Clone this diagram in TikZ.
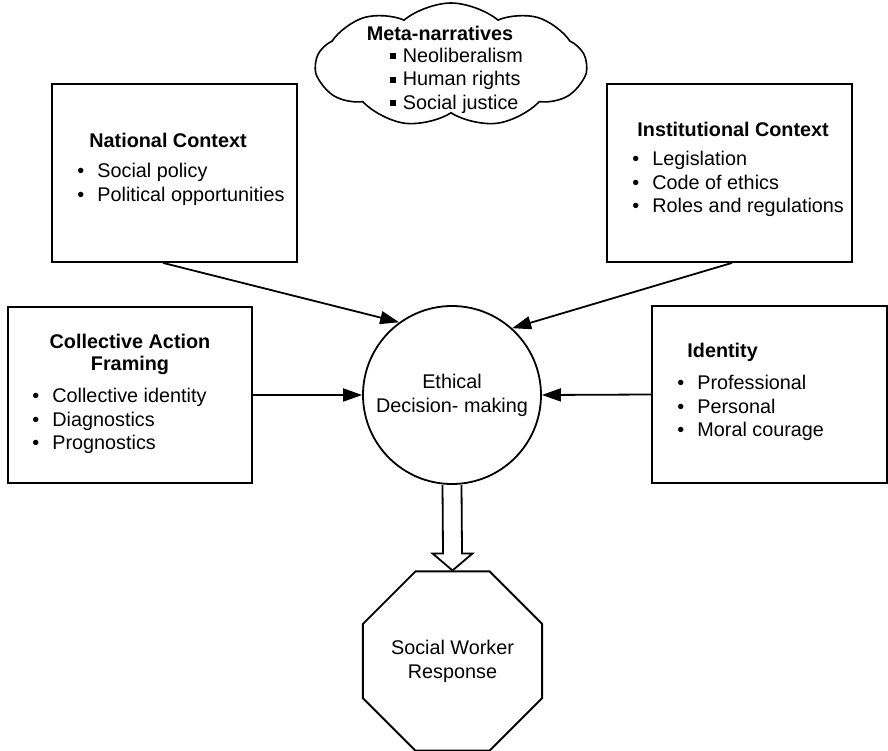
\documentclass[tikz,border=0pt]{standalone}
\usepackage{fontspec}
\setmainfont{Liberation Sans}
\usetikzlibrary{arrows.meta,shapes.geometric,shapes.symbols,calc}
\newcommand{\bul}[1]{\makebox[20pt][l]{\textbullet}#1}
\newcommand{\sqbul}[1]{\makebox[13pt][l]{\rule[3pt]{6pt}{6pt}}#1}

\begin{document}
\begin{tikzpicture}[x=1pt,y=-1pt,line width=1.8pt]
    % `box' is used for the four context boxes.
    % `hub' is the circle in the middle, `outcome' the octagon below it.
    % `puff' is the cloud on top, `feed' the thin arrows.
    \tikzstyle{box} = [draw,rectangle,inner sep=0pt]
    \tikzstyle{hub} = [draw,circle,minimum size=178pt,inner sep=0pt,align=center,font=\fontsize{19.8}{24}\selectfont]
    \tikzstyle{outcome} = [draw,regular polygon,regular polygon sides=8,minimum size=194pt,inner sep=0pt,align=center,font=\fontsize{19.8}{24}\selectfont]
    \tikzstyle{puff} = [draw,cloud,cloud puffs=9,cloud puff arc=80,aspect=2.2,minimum width=270pt,minimum height=124pt,inner sep=0pt,line width=1.6pt]
    \tikzstyle{heading} = [inner sep=0pt,align=center,font=\bfseries\fontsize{19.8}{22}\selectfont]
    \tikzstyle{bullets} = [inner sep=0pt,anchor=west,align=left,font=\fontsize{19.8}{23.5}\selectfont]
    \tikzstyle{feed} = [-{Triangle[length=19pt,width=13pt]}]
    %
    \useasboundingbox (0,0) rectangle (888,751);
    %
    % Cloud.
    \node[puff] (meta) at (451,65) {};
    \node[heading] (metaTitle) at (440,33) {Meta-narratives};
    \node[bullets,anchor=west] (metaList) at (389,80.5)
      {\sqbul{Neoliberalism}\\ \sqbul{Human rights}\\ \sqbul{Social justice}};
    %
    % Boxes.
    \node[box,minimum width=245pt,minimum height=178pt] (natBox) at (174.5,173) {};
    \node[heading,anchor=west] (natTitle) at (88.5,140) {National Context};
    \node[bullets] (natList) at (76.5,184.5)
      {\bul{Social policy}\\ \bul{Political opportunities}};
    %
    \node[box,minimum width=245pt,minimum height=178pt] (insBox) at (729.5,173) {};
    \node[heading,anchor=west] (insTitle) at (636.5,129) {Institutional Context};
    \node[bullets] (insList) at (631.5,184)
      {\bul{Legislation}\\ \bul{Code of ethics}\\ \bul{Roles and regulations}};
    %
    \node[box,minimum width=244pt,minimum height=176pt] (colBox) at (130,395) {};
    \node[heading] (colTitle) at (130,354) {Collective Action\\ Framing};
    \node[bullets] (colList) at (31.5,421)
      {\bul{Collective identity}\\ \bul{Diagnostics}\\ \bul{Prognostics}};
    %
    \node[box,minimum width=235pt,minimum height=177pt] (idBox) at (769.5,394.5) {};
    \node[heading,anchor=west] (idTitle) at (686.5,352) {Identity};
    \node[bullets] (idList) at (676.5,408)
      {\bul{Professional}\\ \bul{Personal}\\ \bul{Moral courage}};
    %
    % Centre and outcome.
    \node[hub] (ethical) at (452,395) {Ethical\\ Decision- making};
    \node[outcome] (resp) at (452.5,661) {Social Worker\\ Response};
    %
    % Arrows.
    \draw[feed] ($(natBox.south)+(-11.5,0)$) -- (ethical.126);
    \draw[feed] ($(insBox.south)+(2.5,0)$) -- (ethical.48);
    \draw[feed] (colBox.east) -- (ethical.west);
    \draw[feed] (idBox.west) -- (ethical.east);
    \draw[line join=miter]
      ($(ethical.south)+(-9.5,0)$) -- ($(resp.north)+(-9.5,-17)$)
      -- ($(resp.north)+(-20,-17)$) -- (resp.north)
      -- ($(resp.north)+(20,-17)$) -- ($(resp.north)+(9.5,-17)$)
      -- ($(ethical.south)+(9.5,0)$);
\end{tikzpicture}
\end{document}
